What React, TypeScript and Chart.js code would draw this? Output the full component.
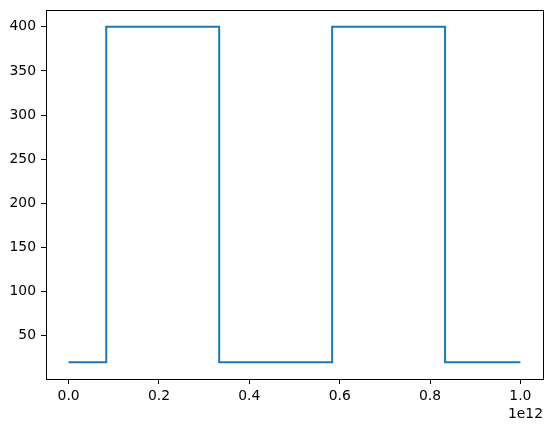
import { useEffect, useRef } from "react"
import { Chart, registerables } from "chart.js"

Chart.register(...registerables)

// x in raw units (shown in units of 1e12), y = signal level
const xValues = [0, 8.333e10, 3.333e11, 5.833e11, 8.333e11, 1e12]
const yValues = [20, 400, 20, 400, 20, 20]
const xTicks = [0, 0.2e12, 0.4e12, 0.6e12, 0.8e12, 1.0e12]
const yTicks = [50, 100, 150, 200, 250, 300, 350, 400]
const offsetLabel = "1e12"

const FONT = "'DejaVu Sans', sans-serif"

export default function App() {
  const chartRef = useRef<HTMLCanvasElement>(null)
  const chartInstance = useRef<Chart | null>(null)

  useEffect(() => {
    document.body.style.margin = "0"
    if (!chartRef.current) return
    if (chartInstance.current) chartInstance.current.destroy()

    // draws the full box round the plot and the offset text
    const framePlugin = {
      id: "frame",
      afterDraw(chart: any) {
        const { ctx, chartArea } = chart
        ctx.save()
        ctx.strokeStyle = "#000"
        ctx.lineWidth = 1
        ctx.strokeRect(
          Math.round(chartArea.left) + 0.5,
          Math.round(chartArea.top) + 0.5,
          Math.round(chartArea.right - chartArea.left),
          Math.round(chartArea.bottom - chartArea.top),
        )
        ctx.fillStyle = "#000"
        ctx.font = `13.9px ${FONT}`
        ctx.textAlign = "right"
        ctx.textBaseline = "top"
        ctx.fillText(offsetLabel, chartArea.right, chartArea.bottom + 28)
        ctx.restore()
      },
    }

    const ctx = chartRef.current.getContext("2d")
    if (ctx) {
      chartInstance.current = new Chart(ctx, {
        type: "line",
        data: {
          datasets: [
            {
              data: xValues.map((x, i) => ({ x, y: yValues[i] })),
              borderColor: "#1f77b4",
              borderWidth: 2,
              stepped: true,
              pointRadius: 0,
              fill: false,
            },
          ],
        },
        options: {
          animation: false,
          responsive: true,
          maintainAspectRatio: false,
          layout: { padding: { top: 10, right: 9, left: 0, bottom: 0 } },
          plugins: { legend: { display: false }, tooltip: { enabled: false } },
          scales: {
            x: {
              type: "linear",
              min: -0.05e12,
              max: 1.05e12,
              afterBuildTicks: (scale: any) => {
                scale.ticks = xTicks.map((v) => ({ value: v }))
              },
              afterFit: (scale: any) => {
                scale.height = 52
                scale.paddingLeft = 0
                scale.paddingRight = 0
              },
              grid: {
                drawOnChartArea: false,
                drawTicks: true,
                tickLength: 5,
                tickColor: "#000",
              },
              border: { display: false },
              ticks: {
                color: "#000",
                padding: 4,
                maxRotation: 0,
                font: { family: FONT, size: 13.9 },
                callback: (value: any) => (Number(value) / 1e12).toFixed(1),
              },
            },
            y: {
              type: "linear",
              min: 1,
              max: 419,
              afterBuildTicks: (scale: any) => {
                scale.ticks = yTicks.map((v) => ({ value: v }))
              },
              afterFit: (scale: any) => {
                scale.width = 46
                scale.paddingTop = 0
                scale.paddingBottom = 0
              },
              grid: {
                drawOnChartArea: false,
                drawTicks: true,
                tickLength: 5,
                tickColor: "#000",
              },
              border: { display: false },
              ticks: {
                color: "#000",
                padding: 5,
                font: { family: FONT, size: 13.9 },
                callback: (value: any) => String(value),
              },
            },
          },
        },
        plugins: [framePlugin],
      })
    }

    return () => {
      if (chartInstance.current) {
        chartInstance.current.destroy()
        chartInstance.current = null
      }
    }
  }, [])

  return (
    <div style={{ position: "relative", width: 552, height: 431, background: "#fff" }}>
      <canvas ref={chartRef} />
    </div>
  )
}
